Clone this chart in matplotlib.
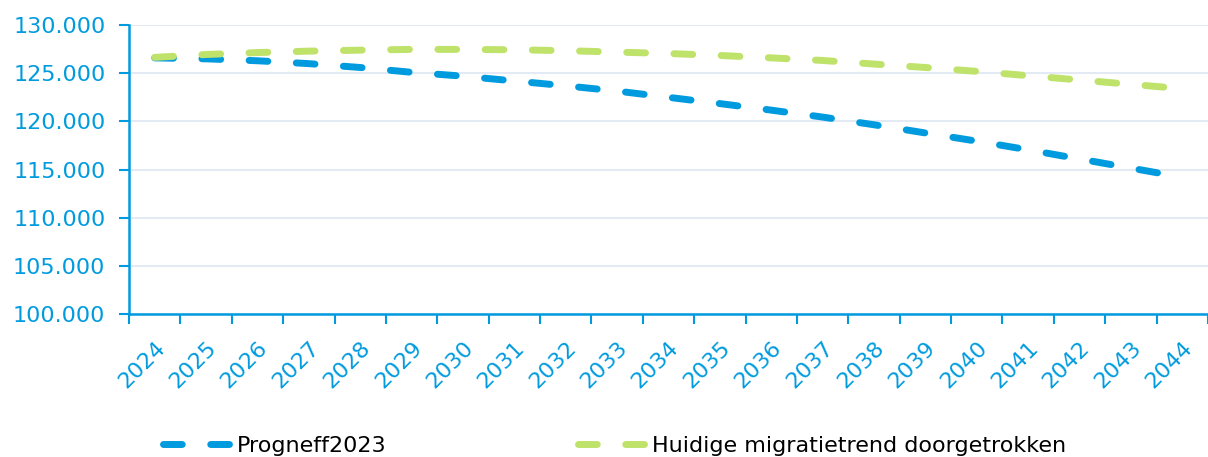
import numpy as np
import matplotlib
matplotlib.use("Agg")
import matplotlib.pyplot as plt
from matplotlib.ticker import FuncFormatter, FixedLocator

jaren = [str(j) for j in range(2024, 2045)]
progneff = [126.6, 126.5, 126.3, 126.0, 125.6, 125.1, 124.7, 124.2, 123.7, 123.15, 122.5,
            121.85, 121.17, 120.45, 119.65, 118.8, 117.95, 117.05, 116.1, 115.15, 114.2]
migratie = [126.65, 126.95, 127.15, 127.3, 127.4, 127.48, 127.48, 127.44, 127.35, 127.2, 127.05,
            126.85, 126.6, 126.33, 125.96, 125.6, 125.2, 124.75, 124.3, 123.85, 123.4]
progneff = [v * 1000 for v in progneff]
migratie = [v * 1000 for v in migratie]

blauw = '#009BDE'
groen = '#BFE26A'
raster = '#E3EAF4'

fig = plt.figure(figsize=(12.08, 4.57), dpi=100)
ax = fig.add_axes([0.1068, 0.313, 0.8932, 0.632])

x = np.arange(len(jaren))
ax.plot(x, progneff, color=blauw, lw=5, dashes=(2.7, 4.1), dash_capstyle='round',
        label='Progneff2023', zorder=3)
ax.plot(x, migratie, color=groen, lw=5, dashes=(2.7, 4.1), dash_capstyle='round',
        label='Huidige migratietrend doorgetrokken', zorder=3)

ax.set_xlim(-0.5, len(jaren) - 0.5)
ax.set_ylim(100000, 130000)
ax.set_yticks(np.arange(100000, 130001, 5000))
ax.yaxis.set_major_formatter(FuncFormatter(lambda v, p: f'{int(v):,}'.replace(',', '.')))
ax.grid(axis='y', color=raster, lw=1.5, zorder=0)
ax.set_axisbelow(True)

ax.set_xticks(x)
ax.set_xticklabels(jaren, rotation=45, ha='right', rotation_mode='anchor')
ax.xaxis.set_minor_locator(FixedLocator(np.arange(-0.5, len(jaren), 1)))
ax.tick_params(axis='x', which='major', length=0, pad=17, labelsize=16, labelcolor=blauw)
ax.tick_params(axis='x', which='minor', length=7, width=1.5, color=blauw)
ax.tick_params(axis='y', length=7, width=1.5, color=blauw, labelsize=16, labelcolor=blauw, pad=10)

for s in ['top', 'right']:
    ax.spines[s].set_visible(False)
for s in ['left', 'bottom']:
    ax.spines[s].set_color(blauw)
    ax.spines[s].set_linewidth(1.8)

leg = fig.legend(loc='center left', bbox_to_anchor=(0.118, 0.025), ncol=2, frameon=False,
                 handlelength=3.3, handletextpad=0.05, columnspacing=8.6,
                 prop={'family': ['Liberation Sans Narrow', 'DejaVu Sans'], 'size': 16})

fig.savefig('out.png', dpi=100)
